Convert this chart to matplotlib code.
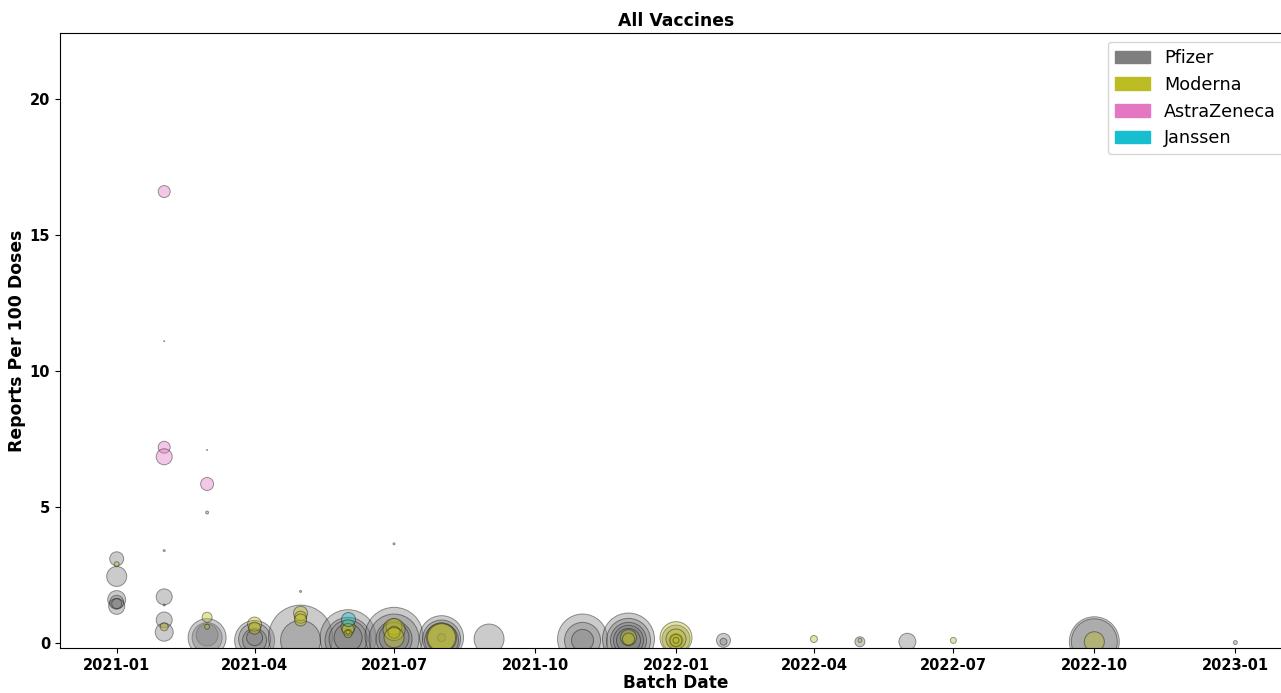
import matplotlib
matplotlib.use("Agg")
import matplotlib.pyplot as plt
import matplotlib.dates as mdates
from matplotlib.patches import Patch
import pandas as pd

# batch month, reports per 100 doses, relative dose volume (bubble area)
pfizer_dates = [
    "2021-01", "2021-01", "2021-01", "2021-01", "2021-01", "2021-01",
    "2021-02", "2021-02", "2021-02", "2021-02", "2021-02",
    "2021-03", "2021-03", "2021-03", "2021-03",
    "2021-04", "2021-04", "2021-04", "2021-04",
    "2021-05", "2021-05", "2021-05",
    "2021-06", "2021-06", "2021-06", "2021-06",
    "2021-07", "2021-07", "2021-07", "2021-07", "2021-07",
    "2021-08", "2021-08", "2021-08", "2021-08",
    "2021-09",
    "2021-11", "2021-11", "2021-11",
    "2021-12", "2021-12", "2021-12", "2021-12", "2021-12",
    "2022-01", "2022-01",
    "2022-02", "2022-02",
    "2022-05", "2022-06",
    "2022-10", "2022-10",
    "2023-01",
]
pfizer_rate = [
    3.1, 2.45, 1.6, 1.5, 1.35, 1.45,
    3.4, 1.7, 1.4, 0.85, 0.4,
    4.8, 0.3, 0.2, 0.2,
    0.1, 0.15, 0.1, 0.2,
    1.9, 0.22, 0.1,
    0.2, 0.1, 0.15, 0.2,
    3.65, 0.25, 0.15, 0.15, 0.2,
    0.2, 0.15, 0.1, 0.2,
    0.15,
    0.15, 0.1, 0.1,
    0.15, 0.1, 0.1, 0.1, 0.1,
    0.15, 0.1,
    0.1, 0.05,
    0.05, 0.05,
    0.05, 0.05,
    0.02,
]
pfizer_doses = [
    196, 400, 324, 196, 256, 100,
    4, 256, 4, 256, 324,
    9, 484, 900, 1444,
    1600, 1024, 576, 256,
    4, 4096, 1600,
    3136, 2116, 1444, 784,
    4, 3364, 2500, 1296, 900,
    1936, 1444, 1156, 64,
    900,
    2500, 1296, 484,
    2704, 1936, 1296, 900, 576,
    784, 196,
    196, 49,
    100, 289,
    2500, 2116,
    16,
]

moderna_dates = [
    "2021-01", "2021-02", "2021-03", "2021-03",
    "2021-04", "2021-04",
    "2021-05", "2021-05", "2021-05",
    "2021-06", "2021-06", "2021-06", "2021-06",
    "2021-07", "2021-07", "2021-07", "2021-07",
    "2021-08", "2021-08",
    "2021-12", "2021-12",
    "2022-01", "2022-01", "2022-01", "2022-01",
    "2022-04", "2022-05", "2022-07", "2022-10",
]
moderna_rate = [
    2.9, 0.6, 0.95, 0.6,
    0.7, 0.55,
    1.1, 0.95, 0.85,
    0.6, 0.5, 0.35, 0.4,
    0.6, 0.5, 0.4, 0.2,
    0.2, 0.2,
    0.2, 0.15,
    0.2, 0.15, 0.1, 0.1,
    0.15, 0.1, 0.1, 0.05,
]
moderna_doses = [
    25, 64, 100, 25,
    196, 144,
    196, 144, 144,
    196, 144, 64, 16,
    256, 484, 144, 400,
    900, 784,
    256, 144,
    1024, 400, 144, 36,
    49, 16, 36, 400,
]

astrazeneca_dates = ["2021-02", "2021-02", "2021-02", "2021-02", "2021-03", "2021-03"]
astrazeneca_rate = [16.6, 11.1, 7.2, 6.85, 7.1, 5.85]
astrazeneca_doses = [144, 1, 144, 256, 1, 169]

janssen_dates = ["2021-06"]
janssen_rate = [0.9]
janssen_doses = [196]

series = [
    ("Pfizer", "tab:gray", pfizer_dates, pfizer_rate, pfizer_doses),
    ("Moderna", "tab:olive", moderna_dates, moderna_rate, moderna_doses),
    ("AstraZeneca", "tab:pink", astrazeneca_dates, astrazeneca_rate, astrazeneca_doses),
    ("Janssen", "tab:cyan", janssen_dates, janssen_rate, janssen_doses),
]

fig = plt.figure(figsize=(12.81, 6.93), dpi=100)
# axes runs a little past the right edge of the canvas
ax = fig.add_axes([60 / 1281, 45 / 693, 1232 / 1281, 615 / 693])
ax.spines["right"].set_visible(False)

for name, color, dates, rate, doses in series:
    ax.scatter(pd.to_datetime(dates), rate, s=[d * 0.5184 for d in doses],
               color=color, edgecolor="black", linewidth=0.7, alpha=0.4)

ax.set_xlim(pd.Timestamp("2020-11-25"), pd.Timestamp("2023-02-07"))
ax.set_ylim(-0.18, 22.43)
ax.xaxis.set_major_locator(mdates.MonthLocator(bymonth=[1, 4, 7, 10]))
ax.xaxis.set_major_formatter(mdates.DateFormatter("%Y-%m"))
ax.set_yticks([0, 5, 10, 15, 20])
for lbl in ax.get_xticklabels() + ax.get_yticklabels():
    lbl.set_fontweight("bold")
    lbl.set_fontsize(10.5)

ax.set_title("All Vaccines", fontweight="bold", fontsize=12.4, pad=5)
ax.set_xlabel("Batch Date", fontweight="bold", fontsize=12.2, labelpad=1)
ax.set_ylabel("Reports Per 100 Doses", fontweight="bold", fontsize=12.4, labelpad=3)

handles = [Patch(color=c, label=n) for n, c, *_ in series]
ax.legend(handles=handles, loc="upper right", fontsize=12.7)

fig.savefig("out.png", dpi=100)
